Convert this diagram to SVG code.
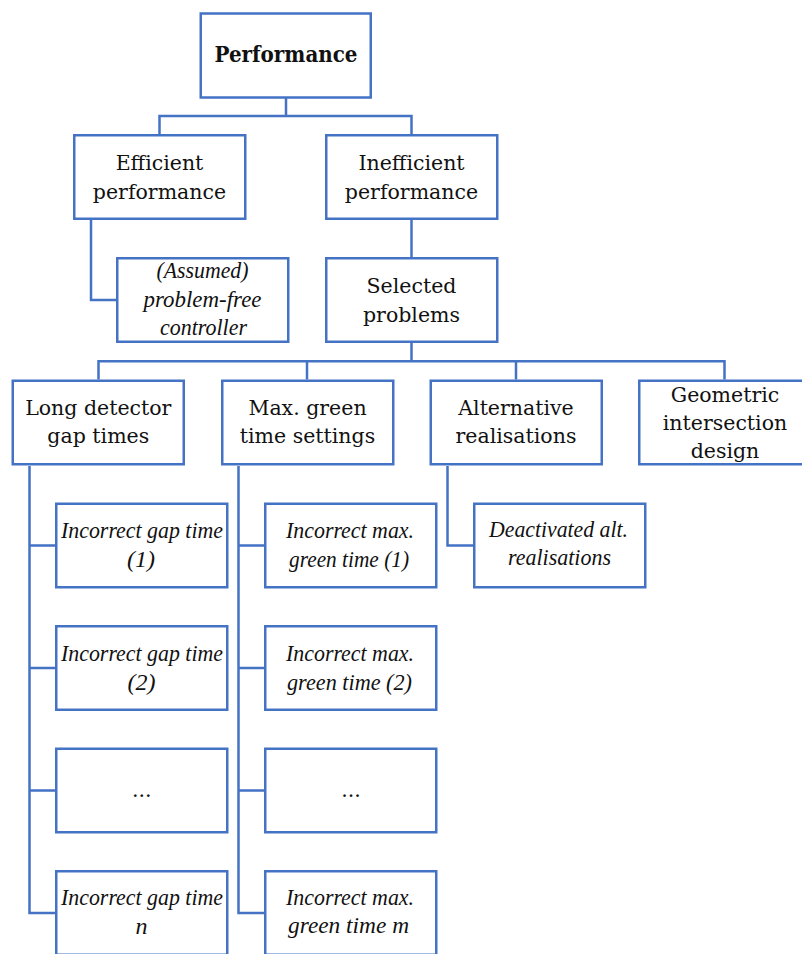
<svg xmlns="http://www.w3.org/2000/svg" width="802" height="954" viewBox="0 0 802 954">
<style>
.box{fill:#ffffff;stroke:#4472C4;stroke-width:2.5}
.con{fill:none;stroke:#4472C4;stroke-width:2.5}
.t{font-family:"DejaVu Serif","Liberation Serif",serif;font-size:20.5px;fill:#111;text-anchor:middle}
.b{font-family:"DejaVu Serif","Liberation Serif",serif;font-size:22.5px;font-weight:bold;fill:#111;text-anchor:middle}
.i{font-family:"Liberation Serif","DejaVu Serif",serif;font-style:italic;font-size:24px;fill:#111;text-anchor:middle}
</style>
<rect width="802" height="954" fill="#ffffff"/>
<g id="connectors" class="con">
<path d="M286,98 V116 M159.5,134 V116 H411.5 V134"/>
<path d="M91,220 V300 H116"/>
<path d="M411.5,220 V257"/>
<path d="M411.5,343 V361.3 M98.5,379.5 V361.3 H724.5 V379.5 M307,361.3 V379.5 M516,361.3 V379.5"/>
<path d="M29.5,466 V913 H55 M29.5,545.5 H55 M29.5,668 H55 M29.5,790.5 H55"/>
<path d="M238.5,466 V913 H264 M238.5,545.5 H264 M238.5,668 H264 M238.5,790.5 H264"/>
<path d="M447.5,466 V545.5 H473"/>
</g>
<g id="performance"><rect class="box" x="200.75" y="13.5" width="170" height="84"/><text class="b" x="286" y="62" textLength="143" lengthAdjust="spacingAndGlyphs">Performance</text></g>
<g id="efficient"><rect class="box" x="74.25" y="135.25" width="171" height="83.5"/><text class="t" x="159.5" y="170">Efficient</text><text class="t" x="159.5" y="199">performance</text></g>
<g id="inefficient"><rect class="box" x="326.25" y="135.25" width="171" height="83.5"/><text class="t" x="411.5" y="170">Inefficient</text><text class="t" x="411.5" y="199">performance</text></g>
<g id="assumed"><rect class="box" x="117.25" y="258.25" width="171" height="83.5"/><text class="i" x="202.5" y="278" textLength="92" lengthAdjust="spacingAndGlyphs">(Assumed)</text><text class="i" x="202.5" y="306.5" textLength="118" lengthAdjust="spacingAndGlyphs">problem-free</text><text class="i" x="203.5" y="335" textLength="87" lengthAdjust="spacingAndGlyphs">controller</text></g>
<g id="selected"><rect class="box" x="326.25" y="258.25" width="171" height="83.5"/><text class="t" x="411.5" y="293">Selected</text><text class="t" x="411.5" y="322">problems</text></g>
<g id="long-detector"><rect class="box" x="12.75" y="380.75" width="171" height="83.5"/><text class="t" x="98.3" y="415">Long detector</text><text class="t" x="98.3" y="443">gap times</text></g>
<g id="max-green"><rect class="box" x="222.25" y="380.75" width="171" height="83.5"/><text class="t" x="307.5" y="415">Max. green</text><text class="t" x="307.5" y="443">time settings</text></g>
<g id="alternative"><rect class="box" x="430.75" y="380.75" width="171" height="83.5"/><text class="t" x="516" y="415">Alternative</text><text class="t" x="516" y="443">realisations</text></g>
<g id="geometric"><rect class="box" x="639.25" y="380.75" width="171" height="83.5"/><text class="t" x="725" y="401.5">Geometric</text><text class="t" x="725" y="430">intersection</text><text class="t" x="725" y="458">design</text></g>
<g id="gap1"><rect class="box" x="56.25" y="503.75" width="171" height="83.5"/><text class="i" x="142" y="538" textLength="162" lengthAdjust="spacingAndGlyphs">Incorrect gap time</text><text class="i" x="141" y="567">(1)</text></g>
<g id="gap2"><rect class="box" x="56.25" y="626.25" width="171" height="83.5"/><text class="i" x="142" y="660.5" textLength="162" lengthAdjust="spacingAndGlyphs">Incorrect gap time</text><text class="i" x="141.5" y="689.5">(2)</text></g>
<g id="gap-dots"><rect class="box" x="56.25" y="748.75" width="171" height="83.5"/><text class="t" x="141.8" y="796.5">...</text></g>
<g id="gapn"><rect class="box" x="56.25" y="871.25" width="171" height="83.5"/><text class="i" x="142" y="905" textLength="162" lengthAdjust="spacingAndGlyphs">Incorrect gap time</text><text class="i" x="141.5" y="933.5">n</text></g>
<g id="max1"><rect class="box" x="265.25" y="503.75" width="171" height="83.5"/><text class="i" x="350" y="538" textLength="128" lengthAdjust="spacingAndGlyphs">Incorrect max.</text><text class="i" x="349" y="567" textLength="120" lengthAdjust="spacingAndGlyphs">green time (1)</text></g>
<g id="max2"><rect class="box" x="265.25" y="626.25" width="171" height="83.5"/><text class="i" x="350" y="660.5" textLength="128" lengthAdjust="spacingAndGlyphs">Incorrect max.</text><text class="i" x="349.5" y="689.5" textLength="125" lengthAdjust="spacingAndGlyphs">green time (2)</text></g>
<g id="max-dots"><rect class="box" x="265.25" y="748.75" width="171" height="83.5"/><text class="t" x="351" y="796.5">...</text></g>
<g id="maxm"><rect class="box" x="265.25" y="871.25" width="171" height="83.5"/><text class="i" x="350" y="905" textLength="128" lengthAdjust="spacingAndGlyphs">Incorrect max.</text><text class="i" x="348.5" y="933" textLength="121" lengthAdjust="spacingAndGlyphs">green time m</text></g>
<g id="deactivated"><rect class="box" x="474.25" y="503.75" width="171" height="83.5"/><text class="i" x="558.5" y="537" textLength="139" lengthAdjust="spacingAndGlyphs">Deactivated alt.</text><text class="i" x="559.5" y="565" textLength="103" lengthAdjust="spacingAndGlyphs">realisations</text></g>
</svg>
